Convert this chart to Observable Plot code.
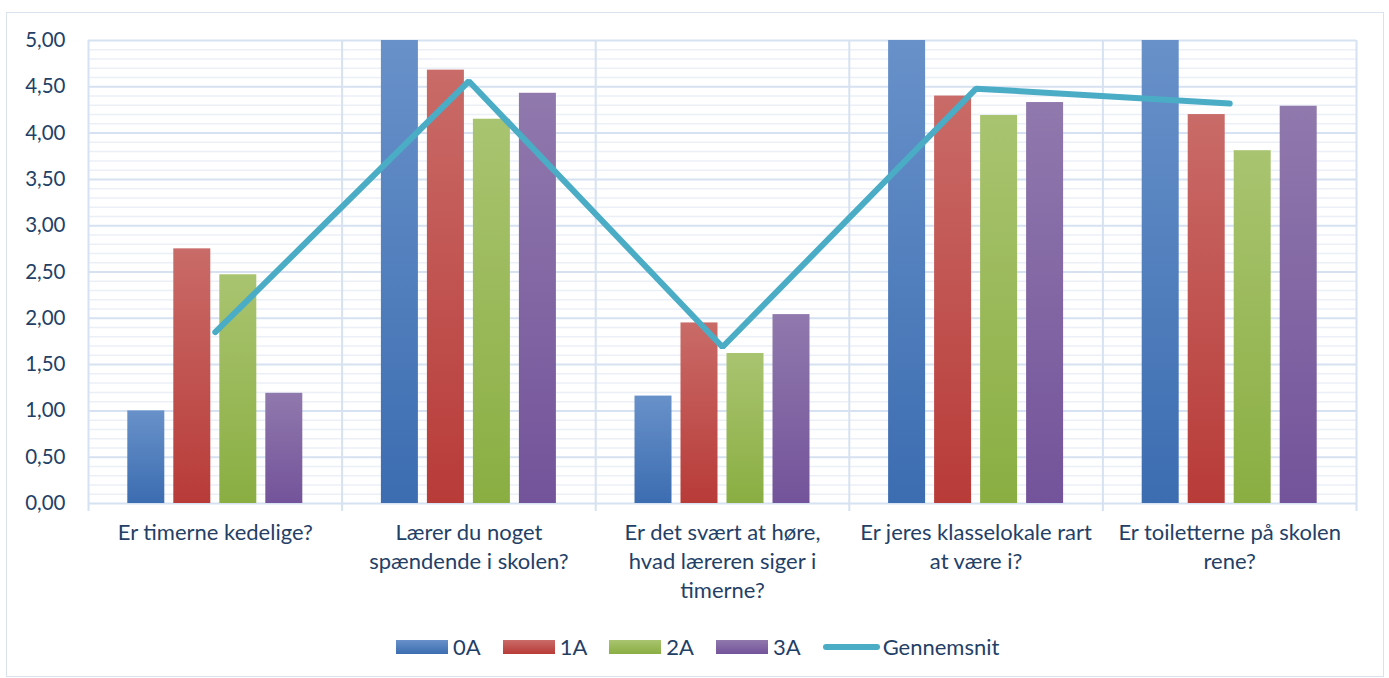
<!DOCTYPE html>
<html>
<head>
<meta charset="utf-8">
<script src="https://cdn.jsdelivr.net/npm/d3@7"></script>
<script src="https://cdn.jsdelivr.net/npm/@observablehq/plot@0.6"></script>
<style>
  body { margin: 0; background: #fff; font-family: Lato, sans-serif; }
  #wrap { position: relative; width: 1389px; height: 678px; overflow: hidden; background: #fff; }
  #frame { position: absolute; left: 6px; top: 12px; width: 1378px; height: 665px; border: 1.5px solid #D9E3F0; box-sizing: border-box; }
  #chart { position: absolute; left: 0; top: 0; }
  #legend { position: absolute; top: 636px; left: 396px; height: 22px; display: flex; align-items: center;
            font-family: Lato, sans-serif; font-size: 22px; color: #243F66; white-space: nowrap; }
  .sw { width: 52px; height: 14px; margin-right: 5px; }
  .ln { width: 57px; height: 6px; border-radius: 3px; background: #4BACC6; margin-right: 3px; }
  .lab { margin-right: 22px; line-height: 22px; }
</style>
</head>
<body>
<div id="wrap">
  <div id="frame"></div>
  <div id="chart"></div>
  <div id="legend"></div>
</div>
<script>
// ---- data ----
const categories = [
  "Er timerne kedelige?",
  "Lærer du noget spændende i skolen?",
  "Er det svært at høre, hvad læreren siger i timerne?",
  "Er jeres klasselokale rart at være i?",
  "Er toiletterne på skolen rene?"
];
const categoryLabels = [
  "Er timerne kedelige?",
  "Lærer du noget\nspændende i skolen?",
  "Er det svært at høre,\nhvad læreren siger i\ntimerne?",
  "Er jeres klasselokale rart\nat være i?",
  "Er toiletterne på skolen\nrene?"
];
const seriesNames = ["0A", "1A", "2A", "3A"];
const values0A = [1.00, 5.00, 1.16, 5.00, 5.00];
const values1A = [2.75, 4.68, 1.95, 4.40, 4.20];
const values2A = [2.47, 4.15, 1.62, 4.19, 3.81];
const values3A = [1.19, 4.43, 2.04, 4.33, 4.29];
const gennemsnit = [1.85, 4.56, 1.69, 4.48, 4.32];
const yTicks = [0, 0.5, 1, 1.5, 2, 2.5, 3, 3.5, 4, 4.5, 5];
const lineName = "Gennemsnit";

// ---- styles ----
const gradients = [
  ["#6891C9", "#3C6DB1"],
  ["#C96B68", "#B83B38"],
  ["#A9C470", "#8AAE42"],
  ["#9079AD", "#73539A"]
];
const textColor = "#243F66";
const lineColor = "#4BACC6";
const majorGrid = "#D6E1F1";
const minorGrid = "#EBF0F8";

const allValues = [values0A, values1A, values2A, values3A];
const barStep = 46 / 253.6;   // per-category layout (fraction of category width)
const barWidth = 37 / 253.6;
const groupHalf = (3 * barStep + barWidth) / 2;

const barMarks = allValues.map((vals, si) =>
  Plot.rectY(vals.map((v, ci) => ({ci, v})), {
    x1: d => d.ci - groupHalf + si * barStep,
    x2: d => d.ci - groupHalf + si * barStep + barWidth,
    y1: 0,
    y2: "v",
    fill: `url(#grad${si})`
  })
);

const minorTicks = d3.range(1, 50).map(i => i / 10).filter(v => Math.round(v * 10) % 5 !== 0);
const boundaries = d3.range(0, categories.length + 1).map(i => i - 0.5);

const svg = Plot.plot({
  width: 1389,
  height: 620,
  marginLeft: 88,
  marginRight: 33,
  marginTop: 40,
  marginBottom: 117,
  style: {fontFamily: "Lato, sans-serif", fontSize: "20.5px", color: textColor, background: "transparent", overflow: "visible"},
  x: {domain: [-0.5, categories.length - 0.5], axis: null},
  y: {domain: [0, 5], ticks: yTicks, tickFormat: d => d.toFixed(2).replace(".", ","), tickSize: 0, tickPadding: 23, label: null},
  marks: [
    Plot.ruleY(minorTicks, {stroke: minorGrid, strokeWidth: 1.5}),
    Plot.ruleY(yTicks, {stroke: majorGrid, strokeWidth: 2}),
    Plot.ruleX(boundaries, {stroke: majorGrid, strokeWidth: 2, insetBottom: -8}),
    ...barMarks,
    Plot.line(gennemsnit, {x: (d, i) => i, y: d => d, stroke: lineColor, strokeWidth: 6, strokeLinecap: "round", strokeLinejoin: "miter"}),
    Plot.text(categoryLabels, {x: (d, i) => i, frameAnchor: "bottom", dy: 16, lineAnchor: "top", lineHeight: 1.32, fontSize: 22, fill: textColor, text: d => d})
  ]
});

// gradient definitions
const ns = "http://www.w3.org/2000/svg";
const defs = document.createElementNS(ns, "defs");
gradients.forEach(([top, bottom], i) => {
  const lg = document.createElementNS(ns, "linearGradient");
  lg.setAttribute("id", "grad" + i);
  lg.setAttribute("x1", "0"); lg.setAttribute("y1", "0");
  lg.setAttribute("x2", "0"); lg.setAttribute("y2", "1");
  [[0, top], [1, bottom]].forEach(([o, c]) => {
    const s = document.createElementNS(ns, "stop");
    s.setAttribute("offset", o);
    s.setAttribute("stop-color", c);
    lg.appendChild(s);
  });
  defs.appendChild(lg);
});
svg.insertBefore(defs, svg.firstChild);
document.getElementById("chart").appendChild(svg);

// legend
const legend = document.getElementById("legend");
seriesNames.forEach((name, i) => {
  const sw = document.createElement("div");
  sw.className = "sw";
  sw.style.background = `linear-gradient(${gradients[i][0]}, ${gradients[i][1]})`;
  const lab = document.createElement("span");
  lab.className = "lab";
  lab.textContent = name;
  legend.appendChild(sw);
  legend.appendChild(lab);
});
const ln = document.createElement("div");
ln.className = "ln";
const lab = document.createElement("span");
lab.className = "lab";
lab.textContent = lineName;
legend.appendChild(ln);
legend.appendChild(lab);
</script>
</body>
</html>
